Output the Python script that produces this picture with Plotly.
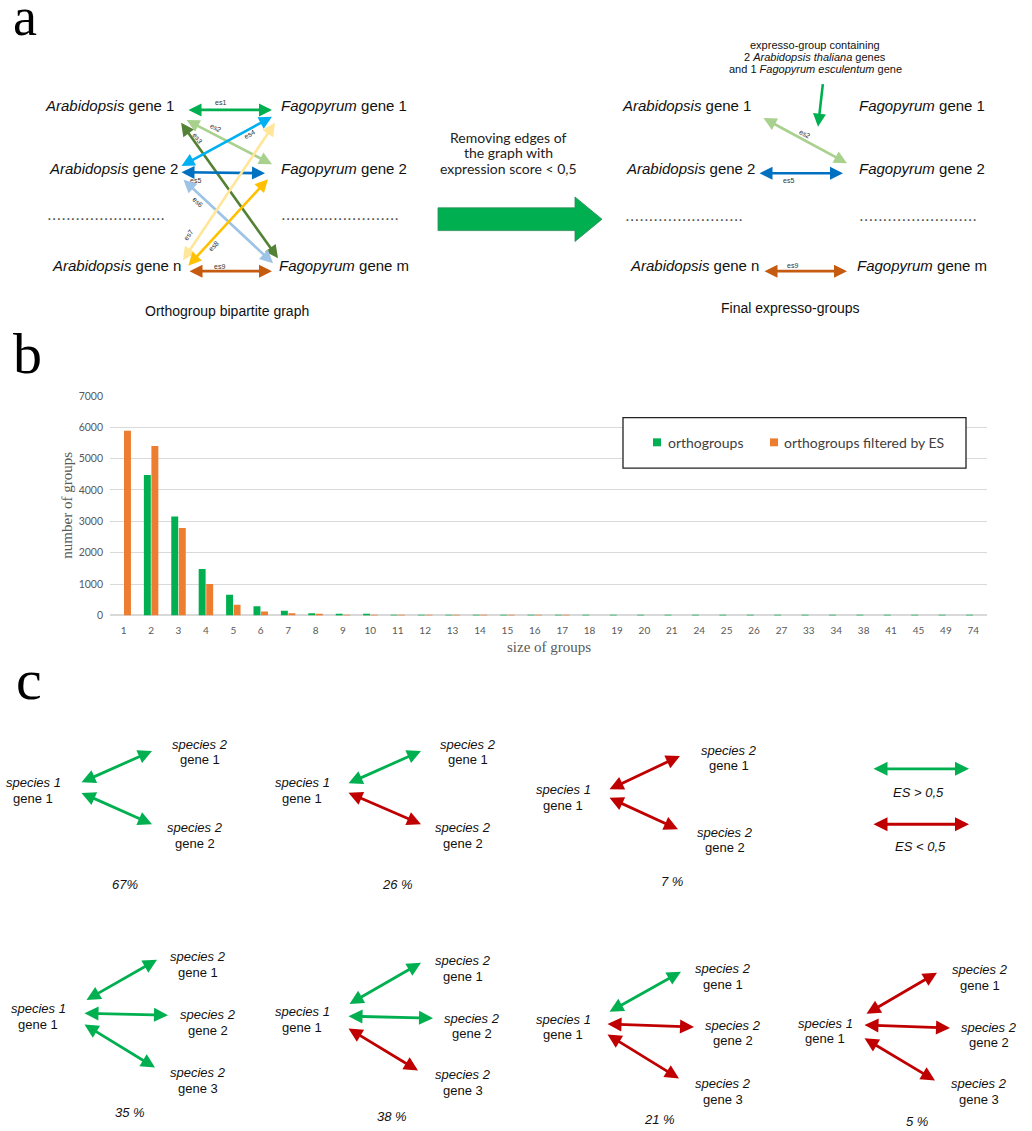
import plotly.graph_objects as go

# ---------------- data ----------------
group_sizes = [str(i) for i in range(1, 22)] + ["24", "25", "26", "27", "33", "34", "38", "41", "45", "49", "74"]
orthogroups = [0, 4480, 3150, 1480, 660, 295, 148, 74, 40, 35, 14, 10, 7, 5, 4, 3, 3, 2, 2, 2,
               1, 1, 1, 1, 1, 1, 1, 1, 1, 1, 1, 1]
orthogroups_filtered = [5890, 5400, 2790, 1000, 345, 125, 72, 22, 10, 6, 3, 2, 1, 1, 1, 1, 1, 0, 0, 0,
                        0, 0, 0, 0, 0, 0, 0, 0, 0, 0, 0, 0]
y_ticks = [0, 1000, 2000, 3000, 4000, 5000, 6000, 7000]

series_names = ["orthogroups", "orthogroups filtered by ES"]

# panel c: edge states per pattern (True = ES > 0,5) and share of groups
pattern_edges = [
    [True, True],
    [True, False],
    [False, False],
    [True, True, True],
    [True, True, False],
    [True, False, False],
    [False, False, False],
]
pattern_share = ["67%", "26 %", "7 %", "35 %", "38 %", "21 %", "5 %"]

W, H = 1032, 1131
GREEN = "#00b050"
ORANGE = "#ed7d31"
RED = "#c00000"
SANS = "Liberation Sans"
SERIF = "Liberation Serif"
CAL = "Lato"


def px(x):
    return x / W


def py(y):
    return 1 - y / H


annotations = []
shapes = []


def text(x, y, s, size, family=SANS, color="#111111", xanchor="center", angle=0):
    annotations.append(dict(x=px(x), y=py(y), xref="paper", yref="paper", text=s, showarrow=False,
                            font=dict(family=family, size=size, color=color),
                            xanchor=xanchor, yanchor="middle", textangle=angle))


def arrow(x0, y0, x1, y1, color, width, both=True, size=1.0):
    annotations.append(dict(x=px(x1), y=py(y1), xref="paper", yref="paper",
                            ax=x0 - x1, ay=y0 - y1, axref="pixel", ayref="pixel",
                            text="", showarrow=True, arrowhead=2, startarrowhead=2,
                            arrowside="end+start" if both else "end",
                            arrowsize=size, startarrowsize=size, arrowwidth=width,
                            arrowcolor=color, standoff=0, startstandoff=0))


# ---------------- panel letters ----------------
text(25, 11, "a", 54, SERIF, "#000000")
text(27, 351, "b", 58, SERIF, "#000000")
text(29, 681, "c", 58, SERIF, "#000000")

# ---------------- panel a: bipartite graph ----------------
DOTS = "." * 25
DOT_COLOR = "#555555"
text(43, 101, "<i>Arabidopsis</i> gene 1", 15, xanchor="left")
text(47, 164, "<i>Arabidopsis</i> gene 2", 15, xanchor="left")
text(45, 211, DOTS, 17, color=DOT_COLOR, xanchor="left")
text(50, 262, "<i>Arabidopsis</i> gene n", 15, xanchor="left")
text(279, 101, "<i>Fagopyrum</i> gene 1", 15, xanchor="left")
text(279, 164, "<i>Fagopyrum</i> gene 2", 15, xanchor="left")
text(279, 211, DOTS, 17, color=DOT_COLOR, xanchor="left")
text(277, 262, "<i>Fagopyrum</i> gene m", 15, xanchor="left")
text(227, 308, "Orthogroup bipartite graph", 14)

edges = [
    # x0, y0, x1, y1, colour, label, lx, ly, angle
    (187, 105, 272, 105, "#00b050", "es1", 220, 98, 0),
    (185, 115, 272, 160, "#a9d18e", "es2", 215, 123, 27),
    (180, 118, 278, 255, "#548235", "es3", 197, 133, 54),
    (180, 162, 272, 112, "#00b0f0", "es4", 249, 130, -29),
    (180, 168, 265, 169, "#0070c0", "es5", 195, 176, 0),
    (182, 175, 273, 260, "#9dc3e6", "es6", 197, 198, 43),
    (182, 257, 275, 118, "#ffe699", "es7", 188, 232, -56),
    (187, 263, 268, 175, "#ffc000", "es8", 213, 243, -47),
    (188, 268, 272, 268, "#c55a11", "es9", 219, 263, 0),
]
for x0, y0, x1, y1, col, lab, lx, ly, ang in edges:
    arrow(x0, y0, x1, y1, col, 2.6, size=1.0)
    text(lx, ly, lab, 7, color="#333333", angle=ang)

# big transition arrow
pts = [(438, 204), (575, 204), (575, 193), (602, 215.5), (575, 238), (575, 227), (438, 227)]
path = "M " + " L ".join(f"{px(x):.5f},{py(y):.5f}" for x, y in pts) + " Z"
shapes.append(dict(type="path", path=path, xref="paper", yref="paper",
                   fillcolor="#00b050", line=dict(color="#2e8b57", width=0.8)))
text(508, 133, "Removing edges of", 14, CAL, "#222222")
text(508, 148, "the graph with", 14, CAL, "#222222")
text(508, 164, "expression score &lt; 0,5", 14, CAL, "#222222")

# final expresso-groups
text(620, 101, "<i>Arabidopsis</i> gene 1", 15, xanchor="left")
text(624, 164, "<i>Arabidopsis</i> gene 2", 15, xanchor="left")
text(623, 212, DOTS, 17, color=DOT_COLOR, xanchor="left")
text(628, 262, "<i>Arabidopsis</i> gene n", 15, xanchor="left")
text(857, 101, "<i>Fagopyrum</i> gene 1", 15, xanchor="left")
text(857, 164, "<i>Fagopyrum</i> gene 2", 15, xanchor="left")
text(857, 212, DOTS, 17, color=DOT_COLOR, xanchor="left")
text(855, 262, "<i>Fagopyrum</i> gene m", 15, xanchor="left")
text(790, 305, "Final expresso-groups", 14)

arrow(762, 113, 847, 159, "#a9d18e", 2.6)
text(804, 129, "es2", 7, color="#333333", angle=28)
arrow(758, 169, 843, 169, "#0070c0", 2.6)
text(788, 176, "es5", 7, color="#333333")
arrow(763, 268, 847, 268, "#c55a11", 2.6)
text(792, 262, "es9", 7, color="#333333")
arrow(823, 78, 818, 122, "#00b050", 2.6, both=False)
text(815, 39, "expresso-group containing", 11)
text(815, 52, "2 <i>Arabidopsis thaliana</i> genes", 11)
text(815, 64, "and 1 <i>Fagopyrum esculentum</i> gene", 11)

# ---------------- panel b: bar chart ----------------
fig = go.Figure()
fig.add_trace(go.Bar(x=group_sizes, y=orthogroups, name=series_names[0],
                     marker=dict(color=GREEN, line=dict(width=0)), showlegend=False))
fig.add_trace(go.Bar(x=group_sizes, y=orthogroups_filtered, name=series_names[1],
                     marker=dict(color=ORANGE, line=dict(width=0)), showlegend=False))

text(67, 505, "number of groups", 15, SERIF, "#595959", angle=-90)
text(549, 648, "size of groups", 15, SERIF, "#595959")

# legend box
shapes.append(dict(type="rect", xref="paper", yref="paper", x0=px(623), x1=px(966), y0=py(467), y1=py(416),
                   line=dict(color="#222222", width=1.3), fillcolor="white", layer="above"))
for (sx, col), (tx, name) in zip([(653, GREEN), (770, ORANGE)], [(666, series_names[0]), (782, series_names[1])]):
    shapes.append(dict(type="rect", xref="paper", yref="paper", x0=px(sx), x1=px(sx + 8),
                       y0=py(445), y1=py(437), line=dict(width=0), fillcolor=col, layer="above"))
    text(tx, 441, name, 14, CAL, "#404040", xanchor="left")

# ---------------- panel c: expression patterns ----------------
def spec_label(x, y, n, gene):
    text(x, y, f"<i>species {n}</i>", 13)
    text(x, y + 16, f"gene {gene}", 13)


DY = 2  # vertical nudge of the panel c labels
two_edge_layout = [
    # centre of species-1 label, arrow geometry, target labels, share label
    dict(s1=(33, 783), arrows=[((80, 785), (152, 753)), ((80, 795), (152, 827))],
         targets=[(200, 744), (195, 828)], share=(125, 886)),
    dict(s1=(302, 783), arrows=[((347, 786), (421, 753)), ((347, 795), (421, 827))],
         targets=[(468, 744), (463, 828)], share=(397, 886)),
    dict(s1=(563, 790), arrows=[((608, 792), (680, 758)), ((608, 800), (678, 832))],
         targets=[(729, 750), (725, 833)], share=(672, 883)),
    dict(s1=(38, 1011), arrows=[((85, 1005), (157, 964)), ((83, 1018), (168, 1020)), ((83, 1029), (155, 1073))],
         targets=[(198, 959), (208, 1017), (198, 1076)], share=(130, 1116)),
    dict(s1=(302, 1014), arrows=[((348, 1009), (421, 967)), ((347, 1021), (433, 1023)), ((347, 1033), (418, 1076))],
         targets=[(463, 963), (472, 1021), (463, 1078)], share=(392, 1120)),
    dict(s1=(563, 1022), arrows=[((608, 1017), (681, 976)), ((606, 1029), (694, 1032)), ((606, 1039), (679, 1084))],
         targets=[(723, 971), (733, 1028), (723, 1087)], share=(659, 1123)),
    dict(s1=(825, 1026), arrows=[((865, 1019), (937, 977)), ((863, 1030), (950, 1033)), ((863, 1043), (935, 1086))],
         targets=[(980, 972), (989, 1030), (979, 1087)], share=(917, 1125)),
]

for geo, states, share in zip(two_edge_layout, pattern_edges, pattern_share):
    spec_label(geo["s1"][0], geo["s1"][1] + DY, 1, 1)
    for ((x0, y0), (x1, y1)), ok in zip(geo["arrows"], states):
        arrow(x0, y0, x1, y1, GREEN if ok else RED, 2.8, size=1.0)
    for k, (tx, ty) in enumerate(geo["targets"]):
        spec_label(tx, ty + DY, 2, k + 1)
    text(geo["share"][0], geo["share"][1] + DY, f"<i>{share}</i>", 13)

# key
arrow(872, 771, 969, 771, GREEN, 2.8)
text(918, 793 + DY, "<i>ES &gt; 0,5</i>", 13)
arrow(872, 827, 969, 827, RED, 2.8)
text(920, 848 + DY, "<i>ES &lt; 0,5</i>", 13)

# ---------------- layout ----------------
fig.update_layout(
    width=W, height=H,
    margin=dict(l=0, r=0, t=0, b=0),
    paper_bgcolor="white", plot_bgcolor="white",
    barmode="group", bargap=0.45, bargroupgap=0.08,
    showlegend=False,
    xaxis=dict(domain=[px(110), px(987)], type="category", tickfont=dict(family=CAL, size=10, color="#595959"),
               showgrid=False, showline=False, ticks="", ticklabelstandoff=8, fixedrange=True),
    yaxis=dict(domain=[py(616), py(394)], range=[0, 7000], tickvals=y_ticks,
               tickfont=dict(family=CAL, size=10.5, color="#595959"),
               showgrid=True, gridcolor="#d9d9d9", gridwidth=1, zeroline=True, zerolinecolor="#d9d9d9",
               showline=False, ticks="", ticklabelstandoff=6, fixedrange=True),
    annotations=annotations,
    shapes=shapes,
)

fig.write_html("out.html")
